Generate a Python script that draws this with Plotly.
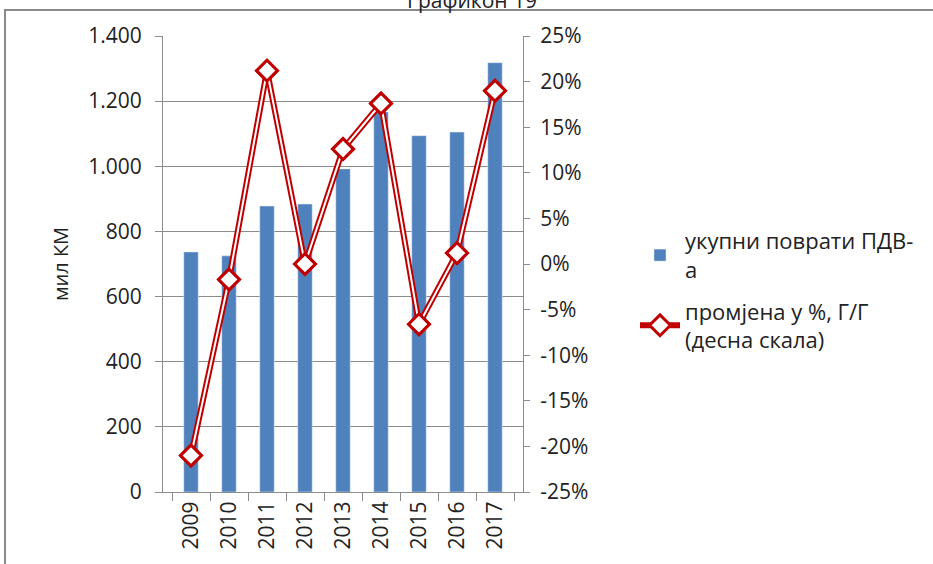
import plotly.graph_objects as go

years = ["2009", "2010", "2011", "2012", "2013", "2014", "2015", "2016", "2017"]
refunds = [737, 725, 878, 884, 992, 1167, 1094, 1105, 1318]
change_pct = [-21.0, -1.7, 21.2, 0.0, 12.6, 17.6, -6.6, 1.2, 19.0]

left_ticks = [0, 200, 400, 600, 800, 1000, 1200, 1400]
right_ticks = [-25, -20, -15, -10, -5, 0, 5, 10, 15, 20, 25]
right_labels = [f"{v}%" for v in right_ticks]

FONT = "Open Sans"
RED = "#C00000"
BLUE = "#4F81BD"
GRID = "#8c8c8c"
TXT = "#222"

fig = go.Figure()
fig.add_trace(go.Bar(
    x=years, y=refunds, name="укупни поврати ПДВ-<br>а", legendgroup="a",
    marker=dict(color=BLUE), width=0.38, yaxis="y",
))
fig.add_trace(go.Scatter(
    x=years, y=change_pct, name="промјена у %, Г/Г<br>(десна скала)", legendgroup="b",
    mode="lines+markers", yaxis="y2",
    line=dict(color=RED, width=6),
    marker=dict(symbol="diamond", size=16, color="white", line=dict(color=RED, width=3)),
))
fig.add_trace(go.Scatter(
    x=years, y=change_pct, mode="lines", yaxis="y2", showlegend=False,
    line=dict(color="white", width=2), hoverinfo="skip",
))
fig.add_trace(go.Scatter(
    x=years, y=change_pct, mode="markers", yaxis="y2", showlegend=False,
    marker=dict(symbol="diamond", size=16, color="white", line=dict(color=RED, width=3)),
    hoverinfo="skip",
))

L, R, T, B = 163, 410, 36, 72
W, H = 933, 564
pw, ph = W - L - R, H - T - B

def px_x(p):
    return (p - L) / pw

def px_y(p):
    return (H - B - p) / ph

fig.update_layout(
    width=W, height=H,
    margin=dict(l=L, r=R, t=T, b=B),
    paper_bgcolor="white", plot_bgcolor="white",
    font=dict(family=FONT, size=21, color=TXT),
    separators=",.",
    showlegend=True,
    legend=dict(
        x=px_x(635), y=px_y(220), xanchor="left", yanchor="top",
        font=dict(family=FONT, size=22, color=TXT),
        tracegroupgap=10, itemwidth=40, bgcolor="rgba(0,0,0,0)",
    ),
    xaxis=dict(
        type="category", tickangle=-90, tickson="boundaries",
        ticks="outside", ticklen=8, tickcolor=GRID,
        showline=True, linecolor=GRID, linewidth=1,
        showgrid=False, tickfont=dict(size=21),
    ),
    yaxis=dict(
        range=[0, 1400], tickmode="array", tickvals=left_ticks, tickformat=",d",
        ticks="outside", ticklen=7, tickcolor=GRID, ticklabelstandoff=9,
        showline=True, linecolor=GRID, linewidth=1,
        showgrid=True, gridcolor=GRID, gridwidth=1,
        zeroline=False,
        title=dict(text="мил КМ", font=dict(size=20), standoff=14),
        tickfont=dict(size=21),
    ),
    yaxis2=dict(
        range=[-25, 25], tickmode="array", tickvals=right_ticks, ticktext=right_labels,
        overlaying="y", side="right",
        ticks="outside", ticklen=6, tickcolor=GRID, ticklabelstandoff=6,
        showline=True, linecolor=GRID, linewidth=1,
        showgrid=False, zeroline=False,
        tickfont=dict(size=21),
    ),
    shapes=[dict(
        type="rect", xref="paper", yref="paper",
        x0=px_x(5), x1=px_x(945), y0=px_y(580), y1=px_y(10),
        line=dict(color="#8a8a8a", width=2), fillcolor="rgba(0,0,0,0)", layer="below",
    )],
    annotations=[dict(
        text="Графикон 19", xref="paper", yref="paper",
        x=px_x(472), y=px_y(16), xanchor="center", yanchor="bottom",
        showarrow=False, font=dict(family=FONT, size=21, color=TXT),
    )],
)

fig.write_html(
    "out.html",
    config={"displayModeBar": False},
    post_script="document.body.style.margin='0';",
)
